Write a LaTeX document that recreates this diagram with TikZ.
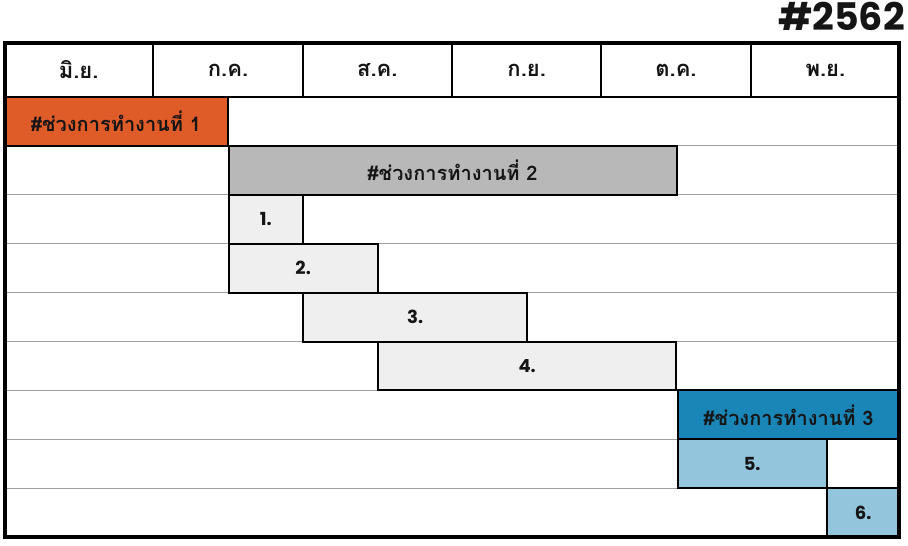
\documentclass[tikz,border=0pt]{standalone}
\usepackage{fontspec}
\newfontfamily\thaifont[Script=Thai]{Loma}
\newfontfamily\numfont{Poppins}
\usetikzlibrary{positioning}
\definecolor{phaseone}{HTML}{DF5B27}
\definecolor{phasetwo}{HTML}{B8B8B8}
\definecolor{phasethree}{HTML}{1A86B7}
\definecolor{subtwo}{HTML}{EFEFEF}
\definecolor{subthree}{HTML}{93C6DC}
\definecolor{rowline}{HTML}{A0A0A0}
\definecolor{ink}{HTML}{151515}

\begin{document}
\begin{tikzpicture}[x=1pt,y=-1pt,node distance=0pt]
\tikzstyle{month}=[draw,line width=1.8pt,minimum width=149.33pt,minimum height=54pt,inner sep=0pt,outer sep=0pt,anchor=north west,text=ink,font=\thaifont\bfseries\fontsize{22}{22}\selectfont]
\tikzstyle{bar}=[draw,line width=2pt,minimum height=48.9pt,inner sep=0pt,outer sep=0pt,anchor=north west,text=ink,font=\thaifont\bfseries\fontsize{20}{20}\selectfont]
\tikzstyle{num}=[font=\numfont\bfseries\fontsize{18}{18}\selectfont]
\useasboundingbox (0,0) rectangle (908,546);
\fill[white] (0,0) rectangle (908,546);
% title
\node[anchor=north east,inner sep=0pt,text=ink,font=\numfont\bfseries\fontsize{38}{38}\selectfont] (year) at (905,2) {\#2562};
% row lines
\foreach \r in {1,...,8}
    \draw[rowline,line width=0.9pt] (5,97+\r*48.9) -- (899,97+\r*48.9);
% months
\foreach \m [count=\i from 0] in {มิ.ย.,ก.ค.,ส.ค.,ก.ย.,ต.ค.,พ.ย.}
    \node[month] (m\i) at (4+\i*149.33,43) {\m};
% phase 1
\node[bar,fill=phaseone,minimum width=224pt] (p1) at (4,97) {\#ช่วงการทำงานที่ 1};
% phase 2
\node[bar,fill=phasetwo,minimum width=448pt] (p2) at (228.5,97+48.9) {\#ช่วงการทำงานที่ 2};
\node[bar,num,fill=subtwo,minimum width=74.67pt,below=of p2.south west,anchor=north west] (s1) {1.};
\node[bar,num,fill=subtwo,minimum width=149.33pt,below=of s1.south west,anchor=north west] (s2) {2.};
\node[bar,num,fill=subtwo,minimum width=224pt] (s3) at (303.2,97+4*48.9) {3.};
\node[bar,num,fill=subtwo,minimum width=298.67pt] (s4) at (377.8,97+5*48.9) {4.};
% phase 3
\node[bar,fill=phasethree,minimum width=222pt] (p3) at (677.5,97+6*48.9) {\#ช่วงการทำงานที่ 3};
\node[bar,num,fill=subthree,minimum width=149.33pt,below=of p3.south west,anchor=north west] (s5) {5.};
\node[bar,num,fill=subthree,minimum width=72.67pt,below=of s5.south east,anchor=north west] (s6) {6.};
% frame
\draw[line width=3.6pt] (5,43) rectangle (899,537);
\draw[line width=2.8pt] (5,97) -- (899,97);
\end{tikzpicture}
\end{document}
